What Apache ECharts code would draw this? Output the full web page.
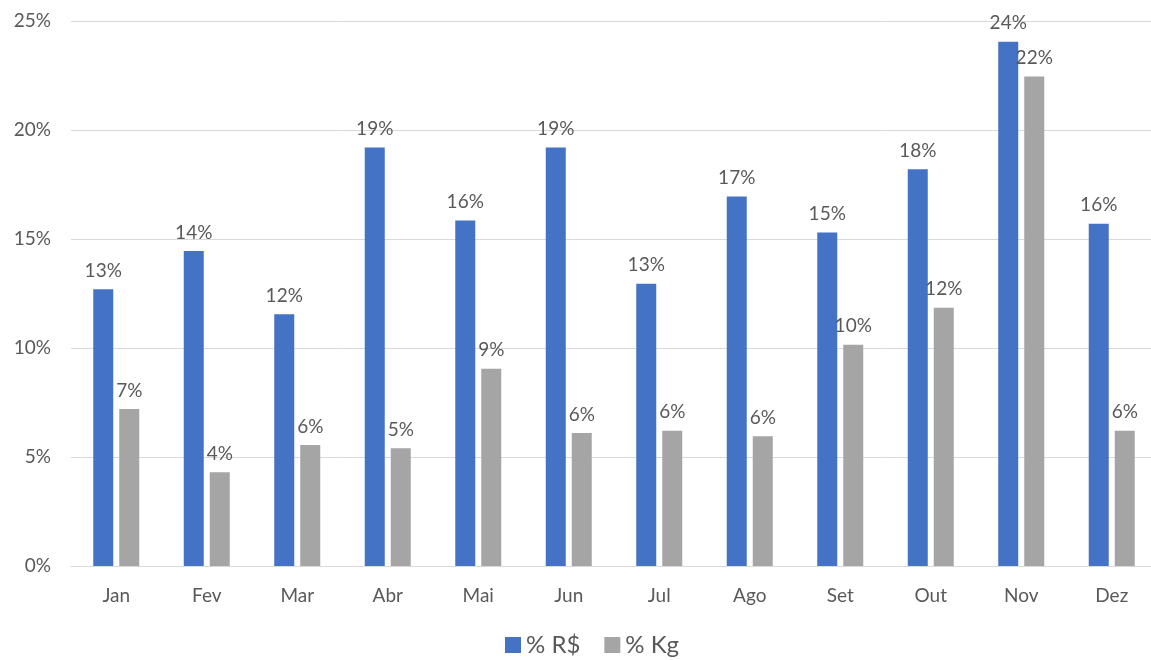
<!DOCTYPE html>
<html><head><meta charset="utf-8">
<script src="https://cdn.jsdelivr.net/npm/echarts@6/dist/echarts.min.js"></script>
<style>html,body{margin:0;padding:0;background:#fff;overflow:hidden}#c{width:1157px;height:660px}</style>
</head><body><div id="c"></div>
<script>
const months = ['Jan','Fev','Mar','Abr','Mai','Jun','Jul','Ago','Set','Out','Nov','Dez'];
const pctRS = [12.7, 14.45, 11.55, 19.2, 15.85, 19.2, 12.95, 16.95, 15.3, 18.2, 24.05, 15.7];
const pctKg = [7.2, 4.3, 5.55, 5.4, 9.05, 6.1, 6.2, 5.95, 10.15, 11.85, 22.45, 6.2];
const seriesNames = ['% R$', '% Kg'];
const FONT = 'Lato, "Open Sans", sans-serif';
const TXT = '#595959';
const chart = echarts.init(document.getElementById('c'));
const lbl = {show:true, position:'top', distance:9, color:TXT, fontSize:19, fontFamily:FONT,
  formatter: p => Math.round(p.value) + '%'};
chart.setOption({
  animation:false,
  textStyle:{fontFamily:FONT},
  grid:{left:71, right:0, top:21, bottom:94, containLabel:false},
  legend:{bottom:-2, left:500, itemWidth:16, itemHeight:16, itemGap:24, icon:'rect',
    textStyle:{color:TXT, fontSize:24, fontFamily:FONT}, data:seriesNames},
  xAxis:{type:'category', data:months,
    axisLine:{lineStyle:{color:'#d9d9d9'}}, axisTick:{show:false},
    axisLabel:{color:TXT, fontSize:19, margin:20, fontFamily:FONT}},
  yAxis:{type:'value', min:0, max:25, interval:5,
    axisLabel:{color:TXT, fontSize:19, margin:20, fontFamily:FONT, formatter:'{value}%'},
    splitLine:{lineStyle:{color:'#d9d9d9'}}},
  series:[
    {name:seriesNames[0], type:'bar', data:pctRS, barWidth:20, barGap:'30%', itemStyle:{color:'#4472C4'}, label:lbl},
    {name:seriesNames[1], type:'bar', data:pctKg, barWidth:20, barGap:'30%', itemStyle:{color:'#A5A5A5'}, label:lbl}
  ]
});
</script></body></html>
